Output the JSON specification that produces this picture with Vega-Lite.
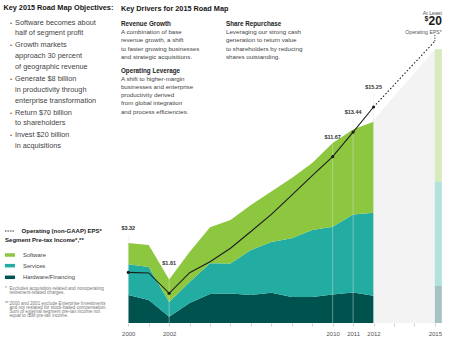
{
"$schema": "https://vega.github.io/schema/vega-lite/v6.json",
"width": 439, "height": 323,
"autosize": {"type": "none"},
"padding": {"left": 3, "top": 0, "right": 8, "bottom": 21},
"background": "white",
"config": {"view": {"stroke": null}, "font": "Liberation Sans"},
"datasets": {
"segments": [
{"year":2000,"segment":"Hardware/Financing","value":3.47,"order":1},{"year":2000,"segment":"Services","value":3.80,"order":2},{"year":2000,"segment":"Software","value":2.64,"order":3},
{"year":2001,"segment":"Hardware/Financing","value":2.85,"order":1},{"year":2001,"segment":"Services","value":4.09,"order":2},{"year":2001,"segment":"Software","value":2.72,"order":3},
{"year":2002,"segment":"Hardware/Financing","value":0.78,"order":1},{"year":2002,"segment":"Services","value":1.82,"order":2},{"year":2002,"segment":"Software","value":2.79,"order":3},
{"year":2003,"segment":"Hardware/Financing","value":2.48,"order":1},{"year":2003,"segment":"Services","value":2.60,"order":2},{"year":2003,"segment":"Software","value":3.72,"order":3},
{"year":2004,"segment":"Hardware/Financing","value":3.59,"order":1},{"year":2004,"segment":"Services","value":3.80,"order":2},{"year":2004,"segment":"Software","value":4.46,"order":3},
{"year":2005,"segment":"Hardware/Financing","value":3.65,"order":1},{"year":2005,"segment":"Services","value":3.72,"order":2},{"year":2005,"segment":"Software","value":5.39,"order":3},
{"year":2006,"segment":"Hardware/Financing","value":3.47,"order":1},{"year":2006,"segment":"Services","value":5.57,"order":2},{"year":2006,"segment":"Software","value":5.57,"order":3},
{"year":2007,"segment":"Hardware/Financing","value":3.75,"order":1},{"year":2007,"segment":"Services","value":6.28,"order":2},{"year":2007,"segment":"Software","value":6.25,"order":3},
{"year":2008,"segment":"Hardware/Financing","value":3.22,"order":1},{"year":2008,"segment":"Services","value":7.27,"order":2},{"year":2008,"segment":"Software","value":7.47,"order":3},
{"year":2009,"segment":"Hardware/Financing","value":3.22,"order":1},{"year":2009,"segment":"Services","value":8.30,"order":2},{"year":2009,"segment":"Software","value":8.30,"order":3},
{"year":2010,"segment":"Hardware/Financing","value":3.53,"order":1},{"year":2010,"segment":"Services","value":8.40,"order":2},{"year":2010,"segment":"Software","value":10.37,"order":3},
{"year":2011,"segment":"Hardware/Financing","value":3.78,"order":1},{"year":2011,"segment":"Services","value":9.66,"order":2},{"year":2011,"segment":"Software","value":10.53,"order":3},
{"year":2012,"segment":"Hardware/Financing","value":3.38,"order":1},{"year":2012,"segment":"Services","value":10.28,"order":2},{"year":2012,"segment":"Software","value":11.27,"order":3}
],
"target": [
{"year":2015,"segment":"Hardware/Financing","value":4.58,"order":1},{"year":2015,"segment":"Services","value":12.92,"order":2},{"year":2015,"segment":"Software","value":16.40,"order":3}
],
"forecast": [{"year":2012,"total":25.1},{"year":2015,"total":33.9}],
"eps": [
{"year":2000,"eps":3.32},{"year":2001,"eps":3.28},{"year":2002,"eps":1.81},{"year":2003,"eps":3.3},{"year":2004,"eps":4.09},{"year":2005,"eps":5.06},{"year":2006,"eps":6.27},{"year":2007,"eps":7.51},{"year":2008,"eps":8.9},{"year":2009,"eps":10.3},{"year":2010,"eps":11.67},{"year":2011,"eps":13.44},{"year":2012,"eps":15.25}
],
"epsProjection": [{"year":2012,"eps":15.25},{"year":2015,"eps":20}],
"swatches": [{"year":1994.21,"v":8.42,"segment":"Software"},{"year":1994.21,"v":7.10,"segment":"Services"},{"year":1994.21,"v":5.66,"segment":"Hardware/Financing"}],
"epsKey": [{"year":1994.21,"v":11.39}],
"titles": [{"year":1993.89,"v":38.97,"text":"Key 2015 Road Map Objectives:"},{"year":1999.64,"v":38.85,"text":"Key Drivers for 2015 Road Map"}],
"heads": [{"year":1999.64,"v":37.03,"text":"Revenue Growth"},{"year":1999.64,"v":31.21,"text":"Operating Leverage"},{"year":2004.78,"v":37.03,"text":"Share Repurchase"}],
"midBody": [
{"year":1999.64,"v":36.04,"text":"A combination of base"},{"year":1999.64,"v":35.01,"text":"revenue growth, a shift"},{"year":1999.64,"v":33.97,"text":"to faster growing businesses"},{"year":1999.64,"v":32.98,"text":"and strategic acquisitions."},
{"year":1999.64,"v":30.22,"text":"A shift to higher-margin"},{"year":1999.64,"v":29.19,"text":"businesses and enterprise"},{"year":1999.64,"v":28.20,"text":"productivity derived"},{"year":1999.64,"v":27.21,"text":"from global integration"},{"year":1999.64,"v":26.17,"text":"and process efficiencies."},
{"year":2004.78,"v":36.04,"text":"Leveraging our strong cash"},{"year":2004.78,"v":35.01,"text":"generation to return value"},{"year":2004.78,"v":33.97,"text":"to shareholders by reducing"},{"year":2004.78,"v":32.98,"text":"shares outstanding."}
],
"leftBody": [
{"year":1994.46,"v":37.19,"text":"Software becomes about"},{"year":1994.46,"v":35.88,"text":"half of segment profit"},
{"year":1994.46,"v":34.43,"text":"Growth markets"},{"year":1994.46,"v":33.07,"text":"approach 30 percent"},{"year":1994.46,"v":31.67,"text":"of geographic revenue"},
{"year":1994.46,"v":30.22,"text":"Generate $8 billion"},{"year":1994.46,"v":28.86,"text":"in productivity through"},{"year":1994.46,"v":27.53,"text":"enterprise transformation"},
{"year":1994.46,"v":26.04,"text":"Return $70 billion"},{"year":1994.46,"v":24.73,"text":"to shareholders"},
{"year":1994.46,"v":23.28,"text":"Invest $20 billion"},{"year":1994.46,"v":21.96,"text":"in acquisitions"}
],
"bullets": [{"year":1994.26,"v":37.19,"text":"•"},{"year":1994.26,"v":34.43,"text":"•"},{"year":1994.26,"v":30.22,"text":"•"},{"year":1994.26,"v":26.04,"text":"•"},{"year":1994.26,"v":23.28,"text":"•"}],
"legendHeads": [{"year":1994.78,"v":11.39,"text":"Operating (non-GAAP) EPS*"},{"year":1993.97,"v":10.22,"text":"Segment Pre-tax Income*,**"}],
"legendLabels": [{"year":1994.85,"v":8.42,"text":"Software"},{"year":1994.85,"v":7.10,"text":"Services"},{"year":1994.85,"v":5.66,"text":"Hardware/Financing"}],
"footnotes": [
{"year":1993.97,"v":4.25,"text":"*"},{"year":1994.19,"v":4.25,"text":"Excludes acquisition-related and nonoperating"},{"year":1994.19,"v":3.72,"text":"retirement-related charges."},
{"year":1993.97,"v":2.35,"text":"**"},{"year":1994.19,"v":2.35,"text":"2000 and 2001 exclude Enterprise Investments"},{"year":1994.19,"v":1.86,"text":"and not restated for stock-based compensation."},{"year":1994.19,"v":1.36,"text":"Sum of external segment pre-tax income not"},{"year":1994.19,"v":0.83,"text":"equal to IBM pre-tax income."}
]
},
"encoding": {
"x": {"field":"year","type":"quantitative","title":null,
"scale":{"domain":[1993.87,2015.35],"nice":false,"zero":false},
"axis":{"values":[2000,2001,2002,2003,2004,2005,2006,2007,2008,2009,2010,2011,2012,2013,2014,2015],"format":"d",
"labelExpr":"(datum.value == 2000 || datum.value == 2002 || datum.value == 2010 || datum.value == 2011 || datum.value == 2012 || datum.value == 2015) ? datum.label : ''",
"domain":false,"grid":false,"tickSize":3,"tickColor":"#bbbbbb","tickWidth":0.7,"labelFontSize":6,"labelColor":"#555555","labelPadding":4,"labelOverlap":false,"labelFlush":false}}
},
"layer": [
{"layer": [
{"data":{"name":"forecast"},"mark":{"type":"area","color":"#f3f3f3"},
"encoding":{"y":{"field":"total","type":"quantitative","scale":{"domain":[0,40],"nice":false,"zero":false},"axis":null}}},
{"data":{"name":"segments"},
"transform":[{"stack":"value","groupby":["year"],"sort":[{"field":"order","order":"ascending"}],"as":["v0","v1"]}],
"mark":{"type":"area","opacity":1},
"encoding":{"y":{"field":"v1","type":"quantitative","scale":{"domain":[0,40],"nice":false,"zero":false},"axis":null},"y2":{"field":"v0"},
"color":{"field":"segment","type":"nominal","scale":{"domain":["Software","Services","Hardware/Financing"],"range":["#8dc63f","#22aca2","#00524f"]},"legend":null}}},
{"data":{"name":"target"},
"transform":[{"stack":"value","groupby":["year"],"sort":[{"field":"order","order":"ascending"}],"as":["v0","v1"]}],
"mark":{"type":"rect","x2Offset":7,"opacity":0.35},
"encoding":{"x2":{"field":"year"},"y":{"field":"v1","type":"quantitative","scale":{"domain":[0,40],"nice":false,"zero":false},"axis":null},"y2":{"field":"v0"},
"color":{"field":"segment","type":"nominal","legend":null}}},
{"data":{"name":"swatches"},"mark":{"type":"point","shape":"M-1,-0.35H1V0.35H-1Z","size":100,"filled":true,"opacity":1,"strokeWidth":0},
"encoding":{"y":{"field":"v","type":"quantitative","scale":{"domain":[0,40],"nice":false,"zero":false},"axis":null},"color":{"field":"segment","type":"nominal","legend":null}}},
{"data":{"name":"epsKey"},"mark":{"type":"rule","color":"#333333","strokeDash":[1.5,1],"strokeWidth":1,"xOffset":-5,"x2Offset":5},
"encoding":{"x2":{"field":"year"},"y":{"field":"v","type":"quantitative","scale":{"domain":[0,40],"nice":false,"zero":false},"axis":null}}},
{"data":{"name":"titles"},"mark":{"type":"text","align":"left","baseline":"middle","fontSize":7.3,"fontWeight":"bold","color":"#151515"},
"encoding":{"y":{"field":"v","type":"quantitative","scale":{"domain":[0,40],"nice":false,"zero":false},"axis":null},"text":{"field":"text"}}},
{"data":{"name":"heads"},"mark":{"type":"text","align":"left","baseline":"middle","fontSize":6.3,"fontWeight":"bold","color":"#222222"},
"encoding":{"y":{"field":"v","type":"quantitative","scale":{"domain":[0,40],"nice":false,"zero":false},"axis":null},"text":{"field":"text"}}},
{"data":{"name":"midBody"},"mark":{"type":"text","align":"left","baseline":"middle","fontSize":6.2,"color":"#444444"},
"encoding":{"y":{"field":"v","type":"quantitative","scale":{"domain":[0,40],"nice":false,"zero":false},"axis":null},"text":{"field":"text"}}},
{"data":{"name":"leftBody"},"mark":{"type":"text","align":"left","baseline":"middle","fontSize":7.3,"color":"#444444"},
"encoding":{"y":{"field":"v","type":"quantitative","scale":{"domain":[0,40],"nice":false,"zero":false},"axis":null},"text":{"field":"text"}}},
{"data":{"name":"bullets"},"mark":{"type":"text","align":"center","baseline":"middle","fontSize":6,"color":"#666666"},
"encoding":{"y":{"field":"v","type":"quantitative","scale":{"domain":[0,40],"nice":false,"zero":false},"axis":null},"text":{"field":"text"}}},
{"data":{"name":"legendHeads"},"mark":{"type":"text","align":"left","baseline":"middle","fontSize":6,"fontWeight":"bold","color":"#222222"},
"encoding":{"y":{"field":"v","type":"quantitative","scale":{"domain":[0,40],"nice":false,"zero":false},"axis":null},"text":{"field":"text"}}},
{"data":{"name":"legendLabels"},"mark":{"type":"text","align":"left","baseline":"middle","fontSize":5.8,"color":"#444444"},
"encoding":{"y":{"field":"v","type":"quantitative","scale":{"domain":[0,40],"nice":false,"zero":false},"axis":null},"text":{"field":"text"}}},
{"data":{"name":"footnotes"},"mark":{"type":"text","align":"left","baseline":"middle","fontSize":4.6,"color":"#777777"},
"encoding":{"y":{"field":"v","type":"quantitative","scale":{"domain":[0,40],"nice":false,"zero":false},"axis":null},"text":{"field":"text"}}}
]},
{"layer": [
{"data":{"name":"eps"},"transform":[{"filter":"datum.year == 2000"}],
"mark":{"type":"rule","color":"#e4e4e4","opacity":0.55,"strokeWidth":0.8,"yOffset":-38},
"encoding":{"y":{"field":"eps","type":"quantitative","scale":{"domain":[-0.33,22.97],"nice":false,"zero":false},"axis":null},"y2":{"datum":-0.33}}},
{"data":{"name":"eps"},"transform":[{"filter":"datum.year == 2002"}],
"mark":{"type":"rule","color":"#e4e4e4","opacity":0.55,"strokeWidth":0.8,"yOffset":-24},
"encoding":{"y":{"field":"eps","type":"quantitative","scale":{"domain":[-0.33,22.97],"nice":false,"zero":false},"axis":null},"y2":{"datum":-0.33}}},
{"data":{"name":"eps"},"transform":[{"filter":"datum.year >= 2010"}],
"mark":{"type":"rule","color":"#e4e4e4","opacity":0.55,"strokeWidth":0.8,"yOffset":-14},
"encoding":{"y":{"field":"eps","type":"quantitative","scale":{"domain":[-0.33,22.97],"nice":false,"zero":false},"axis":null},"y2":{"datum":-0.33}}},
{"data":{"name":"eps"},"mark":{"type":"line","color":"#1e1e1e","strokeWidth":1.1},
"encoding":{"y":{"field":"eps","type":"quantitative","scale":{"domain":[-0.33,22.97],"nice":false,"zero":false},"axis":null}}},
{"data":{"name":"epsProjection"},"mark":{"type":"line","color":"#1e1e1e","strokeWidth":1.1,"strokeDash":[1.5,2]},
"encoding":{"y":{"field":"eps","type":"quantitative","scale":{"domain":[-0.33,22.97],"nice":false,"zero":false},"axis":null}}},
{"data":{"name":"eps"},"transform":[{"filter":"datum.year == 2000 || datum.year == 2002 || datum.year >= 2010"}],
"mark":{"type":"point","filled":true,"size":10,"color":"#1e1e1e","opacity":1},
"encoding":{"y":{"field":"eps","type":"quantitative","scale":{"domain":[-0.33,22.97],"nice":false,"zero":false},"axis":null}}},
{"data":{"name":"eps"},"transform":[{"filter":"datum.year == 2000"}],
"mark":{"type":"text","dy":-44,"fontSize":5.5,"fontWeight":"bold","color":"#333333","baseline":"middle"},
"encoding":{"y":{"field":"eps","type":"quantitative","scale":{"domain":[-0.33,22.97],"nice":false,"zero":false},"axis":null},"text":{"field":"eps","type":"quantitative","format":"$.2f"}}},
{"data":{"name":"eps"},"transform":[{"filter":"datum.year == 2002"}],
"mark":{"type":"text","dy":-30,"fontSize":5.5,"fontWeight":"bold","color":"#333333","baseline":"middle"},
"encoding":{"y":{"field":"eps","type":"quantitative","scale":{"domain":[-0.33,22.97],"nice":false,"zero":false},"axis":null},"text":{"field":"eps","type":"quantitative","format":"$.2f"}}},
{"data":{"name":"eps"},"transform":[{"filter":"datum.year >= 2010"}],
"mark":{"type":"text","dy":-20,"fontSize":5.5,"fontWeight":"bold","color":"#333333","baseline":"middle"},
"encoding":{"y":{"field":"eps","type":"quantitative","scale":{"domain":[-0.33,22.97],"nice":false,"zero":false},"axis":null},"text":{"field":"eps","type":"quantitative","format":"$.2f"}}},
{"data":{"name":"epsProjection"},"transform":[{"filter":"datum.year == 2015"}],
"mark":{"type":"rule","color":"#1e1e1e","strokeDash":[1,1.5],"strokeWidth":1,"yOffset":-6},
"encoding":{"y":{"field":"eps","type":"quantitative","scale":{"domain":[-0.33,22.97],"nice":false,"zero":false},"axis":null},"y2":{"field":"eps"}}},
{"data":{"name":"epsProjection"},"transform":[{"filter":"datum.year == 2015"}],
"mark":{"type":"text","align":"right","baseline":"middle","dx":7,"dy":-9,"fontSize":5.2,"color":"#555555"},
"encoding":{"y":{"field":"eps","type":"quantitative","scale":{"domain":[-0.33,22.97],"nice":false,"zero":false},"axis":null},"text":{"value":"Operating EPS*"}}},
{"data":{"name":"epsProjection"},"transform":[{"filter":"datum.year == 2015"}],
"mark":{"type":"text","align":"right","baseline":"middle","dx":7,"dy":-20,"fontSize":12,"fontWeight":"bold","color":"#1a1a1a"},
"encoding":{"y":{"field":"eps","type":"quantitative","scale":{"domain":[-0.33,22.97],"nice":false,"zero":false},"axis":null},"text":{"value":"20"}}},
{"data":{"name":"epsProjection"},"transform":[{"filter":"datum.year == 2015"}],
"mark":{"type":"text","align":"right","baseline":"middle","dx":-6.5,"dy":-22,"fontSize":7,"fontWeight":"bold","color":"#1a1a1a"},
"encoding":{"y":{"field":"eps","type":"quantitative","scale":{"domain":[-0.33,22.97],"nice":false,"zero":false},"axis":null},"text":{"value":"$"}}},
{"data":{"name":"epsProjection"},"transform":[{"filter":"datum.year == 2015"}],
"mark":{"type":"text","align":"right","baseline":"middle","dx":7,"dy":-28.5,"fontSize":5.2,"color":"#555555"},
"encoding":{"y":{"field":"eps","type":"quantitative","scale":{"domain":[-0.33,22.97],"nice":false,"zero":false},"axis":null},"text":{"value":"At Least"}}}
]}
],
"resolve": {"scale": {"y": "independent"}}
}
